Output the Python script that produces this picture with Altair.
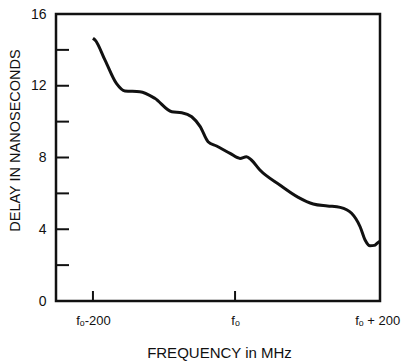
import altair as alt
import pandas as pd

# Frequency offset from f0 (MHz) and delay (ns)
freq = [-200, -197, -183, -167, -155, -134, -113, -89, -75, -61, -49, -38, -26, -7,
        7, 16, 23, 35, 63, 89, 110, 130, 148, 164, 176, 183, 190, 196, 200, 204]
delay = [14.65, 14.55, 13.43, 12.13, 11.71, 11.67, 11.30, 10.55, 10.50, 10.27, 9.72, 8.88,
         8.64, 8.23, 7.95, 8.04, 7.86, 7.30, 6.47, 5.78, 5.41, 5.30, 5.22, 4.89, 4.14, 3.40,
         3.08, 3.10, 3.22, 3.34]

y_minor_ticks = [2, 4, 6, 8, 10, 12, 14]
y_labels = [0, 4, 8, 12, 16]
x_ticks = [-200, 0]
x_label_values = [-200, 0, 200]
x_label_text = ["f\u2092-200", "f\u2092", "f\u2092 + 200"]

W, H = 324, 287
FONT = "Liberation Sans"

df = pd.DataFrame({"f": freq, "d": delay})
xscale = alt.Scale(domain=[-252, 204], nice=False, zero=False)
yscale = alt.Scale(domain=[0, 16], nice=False)

label_expr = " : ".join(
    f"datum.value == {v} ? '{t}'" for v, t in zip(x_label_values, x_label_text)
) + " : ''"

line = alt.Chart(df).mark_line(color="#111111", strokeWidth=3, interpolate="monotone").encode(
    x=alt.X("f:Q", scale=xscale,
            axis=alt.Axis(values=x_label_values, labelExpr=label_expr, title="FREQUENCY in MHz",
                          domain=False, ticks=False, grid=False, labelPadding=13,
                          labelFontSize=13, labelFont=FONT, labelColor="#111",
                          labelOverlap=False, labelBound=False, labelFlush=False,
                          titleFont=FONT, titleFontSize=15, titleFontWeight="normal",
                          titleColor="#111", titleX=163, titleY=51, titleBaseline="middle")),
    y=alt.Y("d:Q", scale=yscale,
            axis=alt.Axis(values=y_labels, title="DELAY IN NANOSECONDS",
                          domain=False, ticks=False, grid=False, labelPadding=10,
                          labelFontSize=14, labelFont=FONT, labelColor="#111",
                          labelOverlap=False, labelBound=False, labelFlush=False,
                          titleFont=FONT, titleFontSize=14.5, titleFontWeight="normal",
                          titleColor="#111", titleX=-41, titleY=126, titleBaseline="middle",
                          titleAngle=270)),
)

ytick = alt.Chart(pd.DataFrame({"v": y_minor_ticks})).mark_rule(color="#111", strokeWidth=2).encode(
    y=alt.Y("v:Q", scale=yscale),
    x=alt.value(0), x2=alt.value(13),
)
xtick = alt.Chart(pd.DataFrame({"v": x_ticks})).mark_rule(color="#111", strokeWidth=2).encode(
    x=alt.X("v:Q", scale=xscale),
    y=alt.value(H), y2=alt.value(H - 10),
)

chart = alt.layer(line, ytick, xtick).properties(
    width=W, height=H,
    autosize=alt.AutoSizeParams(type="none"),
    padding={"left": 56, "top": 14, "right": 31, "bottom": 60},
    background="white",
).configure_view(stroke="#111", strokeWidth=2.5)

chart.save("out.html", embed_options={"renderer": "svg", "actions": False})
